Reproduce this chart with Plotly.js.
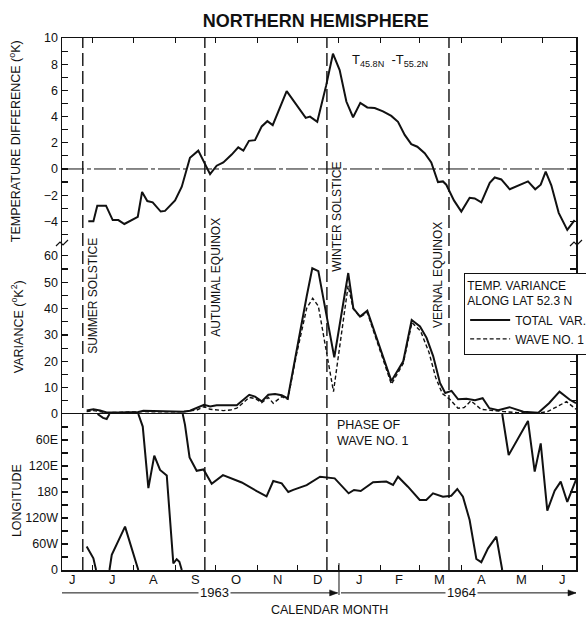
<!DOCTYPE html>
<html><head><meta charset="utf-8">
<script src="https://cdn.plot.ly/plotly-3.0.1.min.js"></script>
<style>html,body{margin:0;padding:0;background:#fff;}#chart{width:586px;height:618px;}</style>
</head><body><div id="chart"></div>
<script>
// x values: days since 1963-06-01
const tempDay = [27.1, 30.9, 33.8, 40.3, 45.3, 49.5, 54.0, 64.0, 67.2, 71.1, 75.1, 81.1, 84.3, 91.8, 96.8, 102.9, 109.1, 117.9, 122.8, 127.8, 134.0, 138.9, 142.7, 146.9, 151.4, 156.4, 160.6, 164.6, 175.0, 189.2, 192.4, 197.8, 204.5, 209.5, 214.5, 219.5, 224.5, 229.9, 235.1, 240.6, 246.8, 253.0, 258.0, 263.0, 267.9, 272.4, 277.9, 282.8, 287.8, 291.5, 294.0, 299.7, 305.2, 311.4, 315.2, 320.1, 326.4, 330.1, 335.0, 341.3, 354.9, 360.3, 364.4, 368.1, 372.3, 377.8, 384.2, 389.7];
const tempDiff = [-4.0, -4.0, -2.8, -2.8, -3.9, -3.9, -4.2, -3.65, -1.75, -2.45, -2.55, -3.25, -3.2, -2.4, -1.35, 0.85, 1.4, -0.4, 0.25, 0.5, 1.1, 1.65, 1.4, 2.15, 2.2, 3.25, 3.65, 3.35, 5.95, 3.9, 4.0, 3.6, 6.4, 8.8, 7.55, 5.15, 3.95, 5.05, 4.7, 4.65, 4.4, 4.05, 3.6, 2.6, 1.9, 1.7, 1.2, 0.5, -1.0, -0.95, -1.2, -2.4, -3.25, -2.2, -2.25, -2.55, -1.05, -0.65, -0.8, -1.55, -0.95, -1.55, -1.2, -0.2, -1.25, -3.35, -4.65, -3.9];

const varDay = [25.9, 30.9, 35.9, 40.8, 49.5, 58.2, 64.4, 68.1, 90.5, 97.9, 102.9, 107.9, 113.4, 117.9, 122.8, 137.8, 142.2, 147.1, 151.4, 156.4, 161.3, 166.3, 171.3, 175.8, 189.9, 194.1, 198.6, 210.5, 220.9, 224.7, 229.7, 235.1, 253.1, 261.9, 268.2, 274.4, 279.3, 284.2, 289.3, 293.2, 297.9, 302.8, 309.0, 315.4, 321.1, 326.1, 332.7, 341.1, 351.4, 362.6, 370.6, 378.4, 386.1, 390.7];
const varTotal = [1.3, 1.8, 1.3, 0.6, 0.6, 0.75, 0.75, 1.25, 1.1, 0.9, 1.25, 2.4, 3.5, 2.9, 3.3, 3.3, 5.1, 7.3, 6.6, 4.8, 7.3, 7.6, 7.1, 5.9, 44.6, 55.3, 54.2, 21.5, 53.5, 40.1, 37, 39.2, 12.5, 20, 35.7, 33.2, 28.9, 22, 11.8, 8, 8.8, 5.6, 5.8, 5.2, 6.0, 2.2, 1.4, 2.6, 0.9, 0.5, 4.1, 8.5, 5.4, 4.1];

const waveDay = [25.9, 30.9, 40.8, 68.1, 90.5, 100.5, 107.9, 113.4, 117.9, 127.8, 132.8, 137.8, 142.2, 147.1, 151.4, 156.4, 161.3, 165.0, 171.3, 175.8, 182.5, 189.9, 194.4, 198.6, 209.9, 220.8, 224.6, 229.7, 235.1, 253.1, 261.9, 268.4, 274.8, 281.1, 286.1, 291.0, 296.8, 302.7, 307.2, 312.4, 319.9, 327.5, 337.5, 347.4, 362.4, 369.8, 383.6, 390.7];
const varWave1 = [0.9, 1.3, 0.5, 0.9, 0.8, 1.0, 1.5, 2.8, 1.8, 1.3, 1.5, 2.2, 4.1, 6.3, 5.9, 4.3, 6.3, 4.1, 6.6, 5.6, 23, 40.1, 43.9, 41, 8.5, 48.7, 40, 36.8, 38.5, 11.3, 19.2, 34.7, 31.5, 23.4, 13.8, 7.8, 5.5, 2.2, 2.4, 5.0, 1.8, 1.3, 0.9, 0.5, 0.3, 1.0, 4.7, 1.8];

// phase of wave no. 1, degrees east (0..360); null = the curve wraps round the axis
const phaseDay = [25.9, 30.9, 32.9, null, 34.0, 38.1, 40.8, 42.9, null, 42.9, 44.6, 54.5, 64.4, null,
  64.4, 67.7, 71.9, 76.3, 80.6, 85.6, 90.5, 93.0, 95.0, 96.8, null,
  97.5, 99.2, 102.6, 107.9, 113.0, 119.1, 127.5, 135.0, 141.5, 152.7, 160.0, 165.0, 171.3, 176.2, 179.9, 189.9, 199.9, 210.8, 215.7, 221.2, 225.2, 230.2, 239.4, 249.3, 254.3, 258.0, 265.4, 274.2, 279.1, 284.1, 291.5, 297.7, 302.2, 306.4, 311.4, 316.4, 320.1, 325.1, 331.3, 335.7, null,
  335.7, 340.5, 354.9, 359.9, 364.4, 369.3, 374.8, 379.3, 384.2, 390.9];
const phaseLon = [306, 333, 360, null, 0, 9, 11.5, 0, null, 360, 325, 260, 360, null,
  0, 29, 171, 96, 129, 142, 345, 335, 341, 360, null,
  0, 25, 100, 131, 128, 161, 141, 150, 158, 178, 190, 154.6, 160, 180, 175, 164, 144.7, 148.5, 163.8, 183, 175.4, 177.7, 157.6, 156, 163.8, 144.7, 167.7, 198.5, 198.5, 183, 190.8, 188.5, 173, 190.8, 244.6, 334.6, 342, 310, 283, 360, null,
  0, 94.6, 16, 133, 67.7, 223, 177, 156, 203, 150];

const monthLabels = ['J','J','A','S','O','N','D','J','F','M','A','M','J'];
const monthMid = [15, 45, 76, 107, 137, 168, 198, 229, 259, 289, 320, 350, 381];
const monthStart = [30, 61, 92, 122, 153, 183, 214, 245, 274, 305, 335, 366];
const eventDays = [23, 114, 205, 296];
const eventLabels = ['SUMMER SOLSTICE', 'AUTUMIAL EQUINOX', 'WINTER SOLSTICE', 'VERNAL EQUINOX'];
const eventLabelY = [0.515, 0.55, 0.665, 0.5545];
const eventLabelShift = [10, 11.5, 10.5, -11];
const yearLabels = ['1963', '1964'];
const yearLabelDay = [121.5, 305.7];
const newYearDay = 214;

const lonMajor = [60, 120, 180, 240, 300, 360];
const lonMajorText = ['60E', '120E', '180', '120W', '60W', '0'];

const FONT = 'Liberation Sans, Arial, Helvetica, sans-serif';
const INK = '#111';
const xRange = [7.5, 390.7];

const traces = [
  {x: tempDay, y: tempDiff, xaxis: 'x3', yaxis: 'y', mode: 'lines', line: {color: INK, width: 2}, showlegend: false},
  {x: varDay, y: varTotal, xaxis: 'x2', yaxis: 'y2', mode: 'lines', name: 'TOTAL  VAR.', line: {color: INK, width: 2}},
  {x: waveDay, y: varWave1, xaxis: 'x2', yaxis: 'y2', mode: 'lines', name: 'WAVE NO. 1', line: {color: INK, width: 1.4, dash: '4px,2.5px'}},
  {x: phaseDay, y: phaseLon, xaxis: 'x', yaxis: 'y3', mode: 'lines', connectgaps: false, line: {color: INK, width: 2}, showlegend: false}
];

const yBase = {showline: true, linecolor: INK, linewidth: 1.5, mirror: 'ticks', ticks: 'inside', ticklen: 6, tickcolor: INK, tickwidth: 1.2,
  showgrid: false, zeroline: false, tickfont: {family: FONT, size: 12.5, color: INK}};

const annotations = [];
monthLabels.forEach((m, i) => annotations.push({x: monthMid[i], xref: 'x', y: -0.017, yref: 'paper', text: m, showarrow: false,
  xanchor: 'center', yanchor: 'middle', font: {family: FONT, size: 13, color: INK}}));
eventLabels.forEach((t, i) => annotations.push({x: eventDays[i], xref: 'x', xshift: eventLabelShift[i], y: eventLabelY[i], yref: 'paper',
  text: t, textangle: -90, showarrow: false, xanchor: 'center', yanchor: 'middle', font: {family: FONT, size: 12, color: INK}}));
yearLabels.forEach((t, i) => annotations.push({x: yearLabelDay[i], xref: 'x', y: -0.043, yref: 'paper', text: t, showarrow: false,
  xanchor: 'center', yanchor: 'middle', bgcolor: '#fff', borderpad: 1, font: {family: FONT, size: 13, color: INK}}));
annotations.push({x: 0.5204, xref: 'paper', y: -0.0752, yref: 'paper', text: 'CALENDAR MONTH', showarrow: false,
  xanchor: 'center', yanchor: 'middle', font: {family: FONT, size: 12.5, color: INK}});
// axis titles
annotations.push({x: -0.0914, xref: 'paper', y: 0.806, yref: 'paper', text: 'TEMPERATURE DIFFERENCE (<sup>o</sup>K)', textangle: -90, showarrow: false,
  xanchor: 'center', yanchor: 'middle', font: {family: FONT, size: 12.5, color: INK}});
annotations.push({x: -0.087, xref: 'paper', y: 0.457, yref: 'paper', text: 'VARIANCE (<sup>o</sup>K<sup>2</sup>)', textangle: -90, showarrow: false,
  xanchor: 'center', yanchor: 'middle', font: {family: FONT, size: 12.5, color: INK}});
annotations.push({x: -0.087, xref: 'paper', y: 0.13, yref: 'paper', text: 'LONGITUDE', textangle: -90, showarrow: false,
  xanchor: 'center', yanchor: 'middle', font: {family: FONT, size: 12.5, color: INK}});
// in-plot labels
annotations.push({x: 0.5597, xref: 'paper', y: 0.958, yref: 'paper', xanchor: 'left', yanchor: 'middle', text: 'T<sub>45.8N</sub>  -T<sub>55.2N</sub>',
  showarrow: false, font: {family: FONT, size: 13, color: INK}});
annotations.push({x: 0.5305, xref: 'paper', y: 0.2566, yref: 'paper', xanchor: 'left', yanchor: 'middle', align: 'left', text: 'PHASE OF<br>WAVE NO. 1',
  showarrow: false, font: {family: FONT, size: 12.5, color: INK}});

const shapes = [];
eventDays.forEach(d => shapes.push({type: 'line', xref: 'x', x0: d, x1: d, yref: 'paper', y0: 0, y1: 1, line: {color: INK, width: 1.4, dash: '13px,5px'}}));
shapes.push({type: 'line', xref: 'paper', x0: 0, x1: 1, yref: 'y', y0: 0, y1: 0, line: {color: INK, width: 1, dash: '22px,3px,4px,3px'}});
// 1963 / 1964 divider and span arrows under the month axis
shapes.push({type: 'line', xref: 'x', x0: newYearDay, x1: newYearDay, yref: 'paper', y0: -0.047, y1: 0.013, line: {color: INK, width: 1}});
shapes.push({type: 'line', xref: 'x', x0: xRange[0], x1: newYearDay - 1, yref: 'paper', y0: -0.043, y1: -0.043, line: {color: INK, width: 1}});
shapes.push({type: 'line', xref: 'x', x0: newYearDay + 1.5, x1: xRange[1], yref: 'paper', y0: -0.043, y1: -0.043, line: {color: INK, width: 1}});
[[newYearDay - 1, 'x'], [xRange[1], 'x']].forEach(([xa, ref]) => shapes.push({type: 'path', xref: ref, yref: 'paper', xsizemode: 'pixel', ysizemode: 'pixel',
  xanchor: xa, yanchor: -0.043, path: 'M -8,-3 L 0,0 L -8,3 Z', fillcolor: INK, line: {color: INK, width: 0.5}}));
// axis-break marks
[0, 1].forEach(xa => shapes.push({type: 'path', xref: 'paper', yref: 'paper', xsizemode: 'pixel', ysizemode: 'pixel', xanchor: xa, yanchor: 0.6147,
  path: 'M -6,-3 L -2,1 L 1,-2 L 6,3', line: {color: INK, width: 1.2}}));

const layout = {
  width: 586, height: 618,
  margin: {l: 62, r: 10, t: 38, b: 48, autoexpand: false},
  paper_bgcolor: '#fff', plot_bgcolor: '#fff',
  font: {family: FONT, color: INK},
  title: {text: 'NORTHERN HEMISPHERE', x: 0.539, xref: 'container', xanchor: 'center', y: 0.9668, yref: 'container', yanchor: 'middle',
          font: {family: FONT, size: 18, weight: 'bold', color: INK}},
  showlegend: true,
  legend: {x: 0.782, xanchor: 'left', y: 0.5583, yanchor: 'top', bgcolor: '#fff', bordercolor: INK, borderwidth: 1.2,
           font: {family: FONT, size: 12, color: INK}, itemwidth: 40, tracegroupgap: 0,
           title: {text: 'TEMP. VARIANCE<br>ALONG LAT 52.3 N', font: {family: FONT, size: 12, color: INK}}},
  xaxis: {domain: [0, 1], anchor: 'y3', range: xRange, showline: true, linecolor: INK, linewidth: 1.5, mirror: true,
          tickmode: 'array', tickvals: monthStart, ticks: 'inside', ticklen: 5, tickcolor: INK, showticklabels: false, showgrid: false, zeroline: false},
  xaxis2: {anchor: 'y2', matches: 'x', range: xRange, showline: false, ticks: '', showticklabels: false, showgrid: false, zeroline: false},
  xaxis3: {anchor: 'y', matches: 'x', range: xRange, side: 'top', showline: true, linecolor: INK, linewidth: 1.5,
           tickmode: 'array', tickvals: monthStart, ticks: 'inside', ticklen: 5, tickcolor: INK, showticklabels: false, showgrid: false, zeroline: false},
  yaxis: Object.assign({}, yBase, {domain: [0.6147, 1], anchor: 'x3', range: [-5.65, 10], tickmode: 'linear', tick0: 0, dtick: 2,
    minor: {tickmode: 'linear', tick0: 0, dtick: 1, ticks: 'inside', ticklen: 6, tickcolor: INK, tickwidth: 1.2, showgrid: false}}),
  yaxis2: Object.assign({}, yBase, {domain: [0.2932, 0.6147], anchor: 'x2', range: [0, 64.9], tickmode: 'linear', tick0: 0, dtick: 10,
    minor: {tickmode: 'linear', tick0: 0, dtick: 5, ticks: 'inside', ticklen: 6, tickcolor: INK, tickwidth: 1.2, showgrid: false}}),
  yaxis3: Object.assign({}, yBase, {domain: [0, 0.2932], anchor: 'x', range: [360, 0], tickmode: 'array', tickvals: lonMajor, ticktext: lonMajorText,
    minor: {tickmode: 'linear', tick0: 0, dtick: 30, ticks: 'inside', ticklen: 6, tickcolor: INK, tickwidth: 1.2, showgrid: false}}),
  annotations: annotations,
  shapes: shapes,
  hovermode: false
};

Plotly.newPlot('chart', traces, layout, {displayModeBar: false, staticPlot: true});
</script>
</body></html>
